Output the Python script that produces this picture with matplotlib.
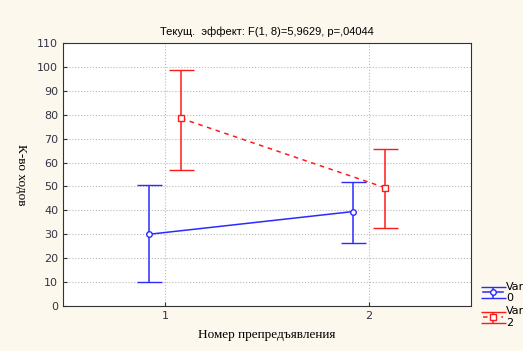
import matplotlib.pyplot as plt
import numpy as np

# data
groups = [1, 2]
var0_mean = [30.0, 39.5]
var0_low = [10.0, 26.5]
var0_high = [50.5, 52.0]
var2_mean = [78.5, 49.5]
var2_low = [57.0, 32.5]
var2_high = [98.5, 65.5]

fig = plt.figure(figsize=(5.23, 3.51), dpi=100, facecolor='#fcf8ee')
ax = fig.add_axes([63/523, 1 - 306/351, (471-63)/523, (306-43)/351])
ax.set_facecolor('white')

off = 0.078
x = np.array(groups, dtype=float)

m0 = np.array(var0_mean)
e0 = [m0 - np.array(var0_low), np.array(var0_high) - m0]
ax.errorbar(x - off, m0, yerr=e0, color='#2b2bff', lw=1.1, capsize=9, capthick=1.1,
            marker='o', ms=4, mfc='white', mec='#2b2bff', mew=1, label='Var\n0', zorder=3)

m2 = np.array(var2_mean)
e2 = [m2 - np.array(var2_low), np.array(var2_high) - m2]
ax.errorbar(x + off, m2, yerr=e2, color='#ff1a1a', lw=1.1, ls=(0, (3, 3)), capsize=9, capthick=1.1,
            marker='s', ms=5, mfc='white', mec='#ff1a1a', mew=1, label='Var\n2', zorder=3)

ax.set_xlim(0.5, 2.5)
ax.set_ylim(0, 110)
ax.set_xticks(groups)
ax.set_yticks(np.arange(0, 111, 10))
ax.grid(True, color='#b8b8b8', ls=':', lw=0.8)
ax.tick_params(direction='in', length=3, labelsize=8, colors='#333344')
for s in ax.spines.values():
    s.set_color('#333333')

ax.set_xlabel('Номер препредъявления', family='Liberation Serif', fontsize=9.5, labelpad=6)
ax.set_ylabel('К-во ходов', family='Liberation Serif', fontsize=9.5, rotation=270, labelpad=16)
ax.set_title('Текущ.  эффект: F(1, 8)=5,9629, p=,04044', fontsize=8, family='Liberation Sans', pad=6)

leg = fig.legend(loc='upper left', bbox_to_anchor=(477/523, 1 - 276/351), frameon=False,
                 fontsize=8, handlelength=1.8, labelspacing=0.3, borderpad=0, handletextpad=0.3)

fig.savefig('out.png', dpi=100, facecolor=fig.get_facecolor())
